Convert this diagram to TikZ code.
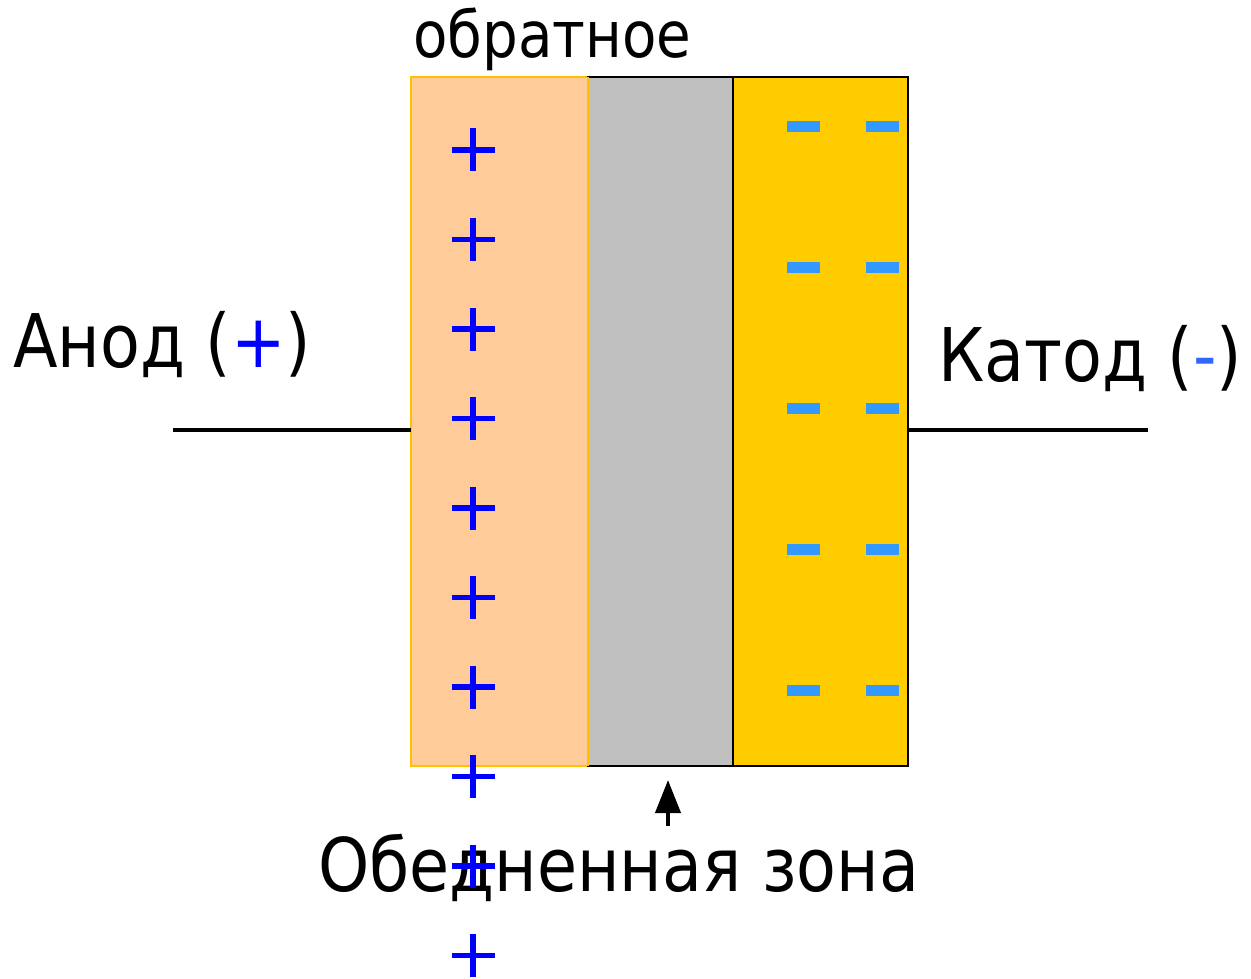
\documentclass[tikz,border=0pt]{standalone}
\usepackage{fontspec}
\setmainfont{DejaVu Sans}[FakeStretch=0.88]
\usetikzlibrary{arrows.meta}
\definecolor{peach}{HTML}{FFCC99}
\definecolor{peachedge}{HTML}{FFC000}
\definecolor{zonegray}{HTML}{C0C0C0}
\definecolor{nyellow}{HTML}{FFCC00}
\definecolor{plusblue}{HTML}{0000FF}
\definecolor{minusblue}{HTML}{3399FF}
\definecolor{katminus}{HTML}{3366FF}
\tikzset{
  layer/.style={rectangle, inner sep=0pt, outer sep=0pt, line width=2pt, anchor=north west},
  label/.style={inner sep=0pt, anchor=base west, font=\fontsize{74}{80}\selectfont},
  wire/.style={line width=4pt},
  plussign/.style={line width=5.5pt, draw=plusblue},
  minussign/.style={line width=11pt, draw=minusblue}
}
\begin{document}
\begin{tikzpicture}[x=1pt,y=-1pt]
\useasboundingbox (0,0) rectangle (1251,979);
% layers
\node[layer, fill=peach, draw=peachedge, minimum width=177pt, minimum height=689pt] (p) at (411,77) {};
\node[layer, fill=zonegray, draw=black, minimum width=145pt, minimum height=689pt] (g) at (588,77) {};
\node[layer, fill=nyellow, draw=black, minimum width=175pt, minimum height=689pt] (n) at (733,77) {};
\draw[peachedge, line width=2pt] (p.north east) -- (p.south east);
% wires
\coordinate (wl) at (173,430);
\coordinate (wr) at (1148,430);
\draw[wire] (wl) -- (p.west |- wl);
\draw[wire] (n.east |- wr) -- (wr);
% labels
\node[label] (anod) at (13,367) {Анод (\textcolor{plusblue}{+})};
\node[label] (katod) at (938,381) {Катод (\textcolor{katminus}{-})};
\node[label] (zona) at (318,891) {Обедненная зона};
\node[label, font=\fontsize{64}{70}\selectfont] (obr) at (413,58) {обратное};
% arrow
\coordinate (ar) at (668,826);
\coordinate (at) at (668,780);
\draw[line width=4pt, -{Triangle[width=25pt,length=33pt]}] (ar) -- (at);
% plus signs
\foreach \i in {0,...,9}{
  \draw[plussign] (451.5,150+89.5*\i) -- (494.5,150+89.5*\i)
                  (473,128.5+89.5*\i) -- (473,171.5+89.5*\i);
}
% minus signs
\foreach \i in {0,...,4}{
  \draw[minussign] (787,126.5+141*\i) -- (820,126.5+141*\i);
  \draw[minussign] (866,126.5+141*\i) -- (899,126.5+141*\i);
}
\end{tikzpicture}
\end{document}
